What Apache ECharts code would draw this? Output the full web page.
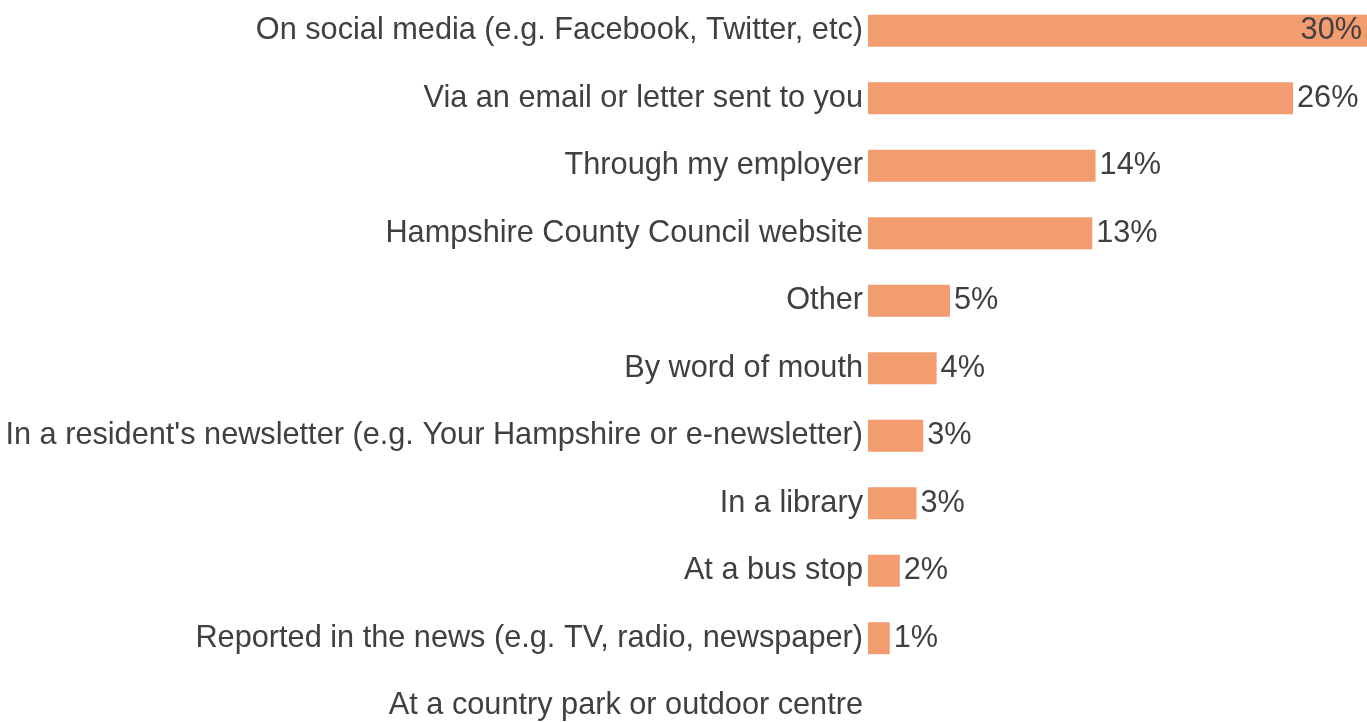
<!DOCTYPE html>
<html>
<head>
<meta charset="utf-8">
<style>
    html, body { margin: 0; padding: 0; background: #fff; }
    #chart { width: 1367px; height: 722px; }
</style>
<script src="https://cdn.jsdelivr.net/npm/echarts@6/dist/echarts.min.js"></script>
</head>
<body>
<div id="chart"></div>
<script>
    // categories top to bottom
    const categories = [
        'On social media (e.g. Facebook, Twitter, etc)',
        'Via an email or letter sent to you',
        'Through my employer',
        'Hampshire County Council website',
        'Other',
        'By word of mouth',
        "In a resident's newsletter (e.g. Your Hampshire or e-newsletter)",
        'In a library',
        'At a bus stop',
        'Reported in the news (e.g. TV, radio, newspaper)',
        'At a country park or outdoor centre'
    ];
    // share of respondents, %
    const shares = [30.0, 25.4, 13.6, 13.4, 4.9, 4.1, 3.3, 2.9, 1.9, 1.3, 0];
    // printed labels
    const shareLabels = ['30%', '26%', '14%', '13%', '5%', '4%', '3%', '3%', '2%', '1%', ''];

    const myChart = echarts.init(document.getElementById('chart'));

    const textColor = '#404040';
    const font = "'Liberation Sans', Arial, sans-serif";

    const option = {
        animation: false,
        grid: {
            left: 868,
            top: -3,
            width: 502,
            height: 742.5,
            outerBoundsMode: 'none',
            containLabel: false
        },
        xAxis: {
            type: 'value',
            min: 0,
            max: 30,
            show: false
        },
        yAxis: {
            type: 'category',
            inverse: true,
            data: categories,
            axisLine: { show: false },
            axisTick: { show: false },
            axisLabel: {
                margin: 5,
                color: textColor,
                fontSize: 30.7,
                fontFamily: font
            }
        },
        series: [{
            type: 'bar',
            barWidth: 32,
            itemStyle: { color: '#F29C6F' },
            data: shares.map((v, i) => ({
                value: v,
                label: i === 0 ? { position: 'insideRight', distance: 8 } : {}
            })),
            label: {
                show: true,
                position: 'right',
                distance: 4,
                color: textColor,
                fontSize: 30.7,
                fontFamily: font,
                formatter: (p) => shareLabels[p.dataIndex]
            }
        }]
    };

    myChart.setOption(option);
    window.onresize = () => {
        myChart.resize();
    };
</script>
</body>
</html>
